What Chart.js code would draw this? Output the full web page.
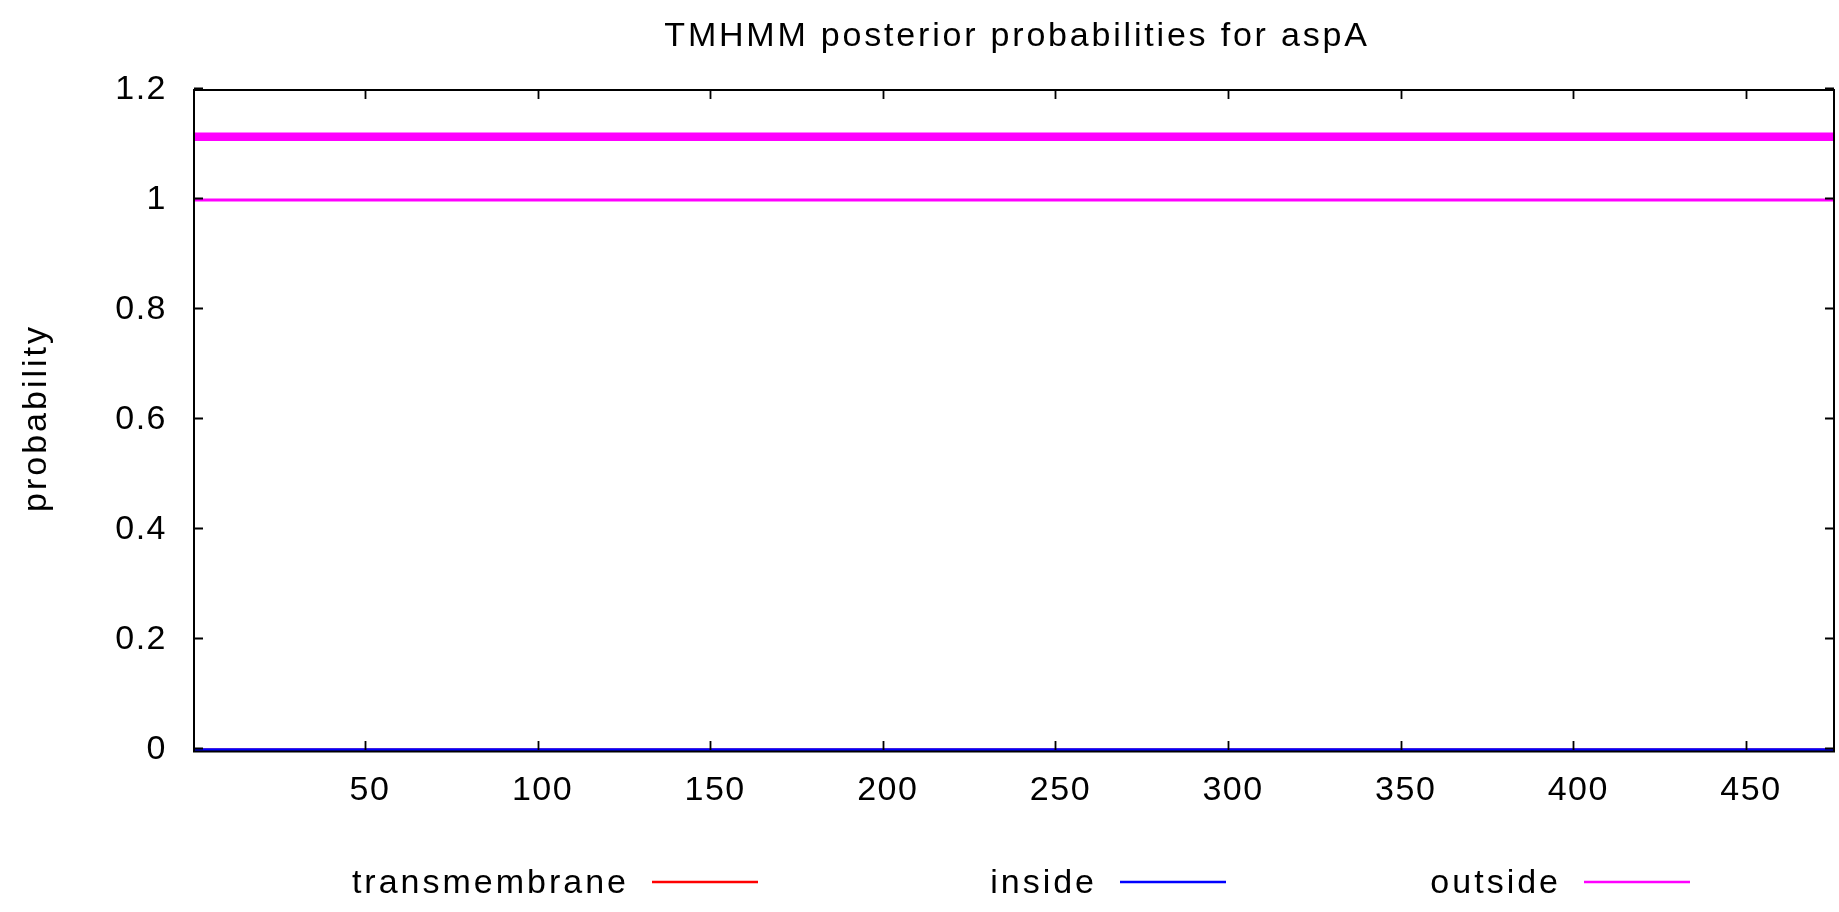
<!DOCTYPE html>
<html>
<head>
<meta charset="utf-8">
<title>TMHMM posterior probabilities for aspA</title>
<script src="https://cdn.jsdelivr.net/npm/chart.js@4.4.1/dist/chart.umd.min.js"></script>
<style>
  html, body { margin: 0; padding: 0; background: #ffffff; }
  #wrap { width: 1839px; height: 912px; }
</style>
</head>
<body>
<div id="wrap"><canvas id="plot" width="1839" height="912"></canvas></div>
<script>
// ---- data ----
const chartTitle = 'TMHMM posterior probabilities for aspA';
const yAxisTitle = 'probability';
// residue extent of the sequence (first and last position edges)
const sequenceExtent = [0.5, 475.5];
// posterior probabilities along the sequence
const transmembraneProb = [0, 0];
const insideProb = [0, 0];
const outsideProb = [1, 1];
// predicted topology bar (outside over the whole sequence)
const predictedOutside = [1.115, 1.115];
const seriesNames = ['transmembrane', 'inside', 'outside'];
const seriesColors = ['#ff0000', '#0000ff', '#ff00ff'];
const xTickValues = [50, 100, 150, 200, 250, 300, 350, 400, 450];
const yTickValues = [0, 0.2, 0.4, 0.6, 0.8, 1, 1.2];
const yTickLabels = ['0', '0.2', '0.4', '0.6', '0.8', '1', '1.2'];

// ---- styling ----
const FONT_FAMILY = '"Liberation Sans", Arial, sans-serif';
const FONT_SIZE = 34;
const TICK_SPACING = '1.5px';
const TEXT_SPACING = '3px';
const TITLE_SPACING = '2.8px';
const TICK_LEN = 9;

function toPoints(values) {
  return sequenceExtent.map((x, i) => ({ x: x, y: values[i] }));
}

// gnuplot-like frame with inward mirrored ticks, plus title, axis title and key
const gnuplotDecor = {
  id: 'gnuplotDecor',
  beforeDraw(chart) {
    chart.ctx.letterSpacing = TICK_SPACING;
  },
  afterDatasetsDraw(chart) {
    const { ctx, chartArea: a, scales } = chart;
    ctx.save();
    ctx.strokeStyle = '#000000';
    ctx.lineWidth = 2;
    ctx.beginPath();
    ctx.rect(a.left, a.top, a.right - a.left, a.bottom - a.top + 1.5);
    ctx.stroke();
    ctx.lineWidth = 1.8;
    ctx.beginPath();
    scales.x.ticks.forEach(t => {
      const px = Math.round(scales.x.getPixelForValue(t.value)) + 0.5;
      ctx.moveTo(px, a.bottom);
      ctx.lineTo(px, a.bottom - TICK_LEN);
      ctx.moveTo(px, a.top);
      ctx.lineTo(px, a.top + TICK_LEN);
    });
    scales.y.ticks.forEach(t => {
      const py = Math.round(scales.y.getPixelForValue(t.value)) - 1.5;
      ctx.moveTo(a.left, py);
      ctx.lineTo(a.left + TICK_LEN, py);
      ctx.moveTo(a.right, py);
      ctx.lineTo(a.right - TICK_LEN, py);
    });
    ctx.stroke();
    ctx.restore();
  },
  afterDraw(chart) {
    const { ctx, chartArea: a } = chart;
    ctx.save();
    ctx.fillStyle = '#000000';
    ctx.font = FONT_SIZE + 'px ' + FONT_FAMILY;
    ctx.textBaseline = 'alphabetic';

    // title centred over the plot area
    ctx.letterSpacing = TITLE_SPACING;
    ctx.textAlign = 'center';
    ctx.fillText(chartTitle, (a.left + a.right) / 2 + 3, 46);

    // rotated y axis title
    ctx.letterSpacing = TEXT_SPACING;
    ctx.save();
    ctx.translate(46, (a.top + a.bottom) / 2 - 2);
    ctx.rotate(-Math.PI / 2);
    ctx.textAlign = 'center';
    ctx.fillText(yAxisTitle, 0, 0);
    ctx.restore();

    // key: right-justified label followed by a line sample, one column per series
    const lineEnds = [758, 1226, 1690];
    const sampleLen = 106;
    const keyLineY = 882;
    const keyBaseline = 893;
    chart.data.datasets.slice(0, 3).forEach((ds, i) => {
      const x1 = lineEnds[i];
      const x0 = x1 - sampleLen;
      ctx.textAlign = 'right';
      ctx.fillStyle = '#000000';
      ctx.fillText(ds.label, x0 - 23, keyBaseline);
      ctx.strokeStyle = ds.borderColor;
      ctx.lineWidth = 2.5;
      ctx.beginPath();
      ctx.moveTo(x0, keyLineY);
      ctx.lineTo(x1, keyLineY);
      ctx.stroke();
    });
    ctx.restore();
  }
};

const ctx = document.getElementById('plot').getContext('2d');
new Chart(ctx, {
  type: 'line',
  data: {
    datasets: [
      { label: seriesNames[0], data: toPoints(transmembraneProb), borderColor: seriesColors[0], borderWidth: 3, order: 3 },
      { label: seriesNames[1], data: toPoints(insideProb), borderColor: seriesColors[1], borderWidth: 3.5, order: 2 },
      { label: seriesNames[2], data: toPoints(outsideProb), borderColor: seriesColors[2], borderWidth: 2.8, order: 1 },
      { label: 'predicted outside', data: toPoints(predictedOutside), borderColor: seriesColors[2], borderWidth: 8.5, order: 0 }
    ]
  },
  options: {
    responsive: false,
    animation: false,
    devicePixelRatio: 1,
    layout: { padding: { top: 90, right: 5, left: 0, bottom: 0 } },
    elements: { point: { radius: 0, hoverRadius: 0 }, line: { tension: 0, borderCapStyle: 'butt' } },
    datasets: { line: { clip: false, fill: false } },
    plugins: { legend: { display: false }, title: { display: false }, tooltip: { enabled: false } },
    events: [],
    scales: {
      x: {
        type: 'linear',
        position: 'bottom',
        min: sequenceExtent[0],
        max: sequenceExtent[1],
        afterBuildTicks: s => { s.ticks = xTickValues.map(v => ({ value: v })); },
        afterFit: s => { s.height = 162; },
        grid: { display: false, drawTicks: false, tickLength: 0 },
        border: { display: false },
        ticks: {
          color: '#000000',
          font: { family: FONT_FAMILY, size: FONT_SIZE },
          padding: 20,
          labelOffset: 5,
          maxRotation: 0,
          autoSkip: false,
          callback: v => String(v)
        }
      },
      y: {
        type: 'linear',
        min: yTickValues[0],
        max: yTickValues[yTickValues.length - 1],
        afterBuildTicks: s => { s.ticks = yTickValues.map(v => ({ value: v })); },
        afterFit: s => { s.width = 194; },
        grid: { display: false, drawTicks: false, tickLength: 0 },
        border: { display: false },
        ticks: {
          color: '#000000',
          font: { family: FONT_FAMILY, size: FONT_SIZE },
          padding: 27,
          autoSkip: false,
          callback: (v, i) => yTickLabels[i]
        }
      }
    }
  },
  plugins: [gnuplotDecor]
});
</script>
</body>
</html>
